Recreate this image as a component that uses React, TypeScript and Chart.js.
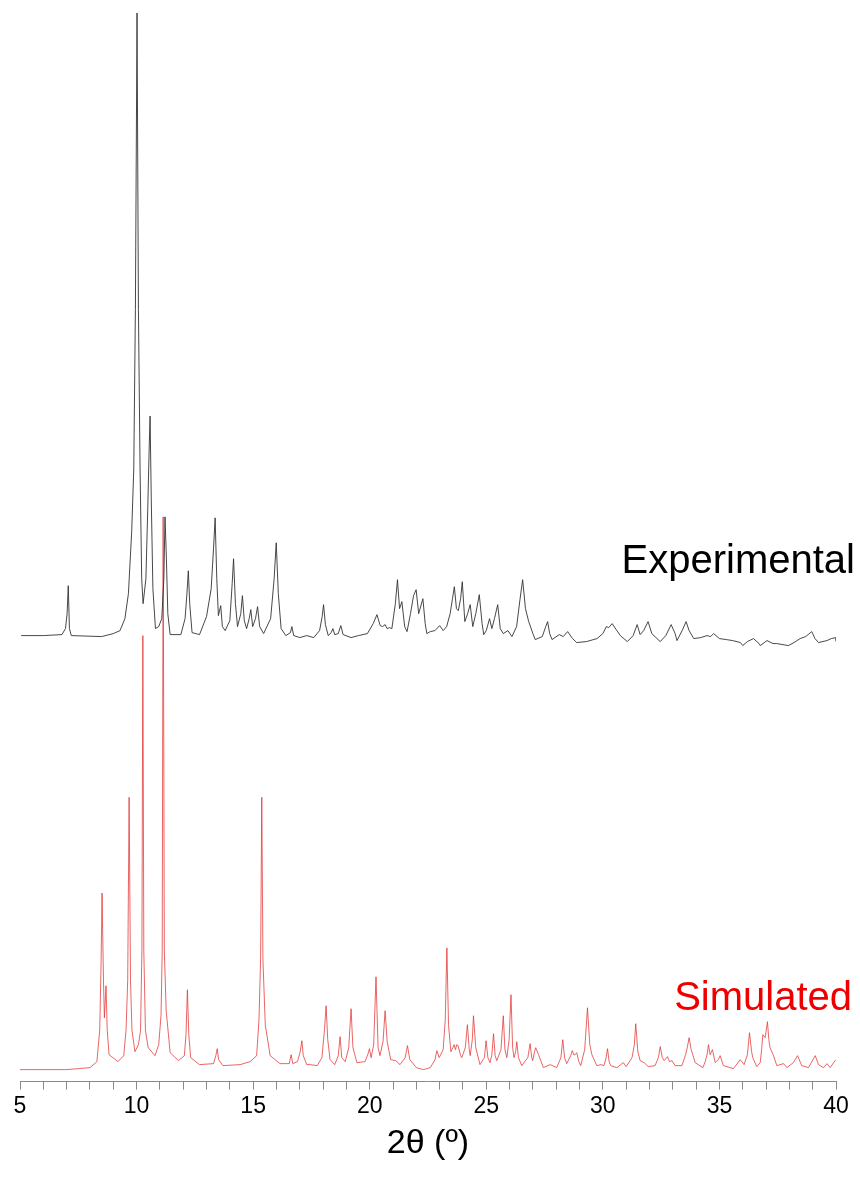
import React, { useEffect, useRef } from "react";
import { Chart, registerables } from "chart.js";

Chart.register(...registerables);

// ---- Simulated pattern (2θ in degrees, relative intensity) ----
const simTheta = [
  5.0, 6.97, 7.5, 8.0, 8.3, 8.42, 8.48, 8.52, 8.58, 8.62, 8.69, 8.74, 8.82, 9.2, 9.45, 9.55, 9.62, 9.68, 9.74, 9.8,
  9.93, 10.08, 10.17, 10.23, 10.27, 10.31, 10.38, 10.5, 10.79, 10.95, 11.05, 11.1, 11.14, 11.19, 11.27, 11.44, 11.8,
  12.05, 12.12, 12.18, 12.24, 12.32, 12.7, 13.3, 13.4, 13.46, 13.52, 13.7, 14.44, 14.87, 15.15, 15.25, 15.32, 15.37,
  15.42, 15.52, 15.73, 16.15, 16.55, 16.63, 16.7, 16.9, 17.02, 17.09, 17.15, 17.3, 17.44, 17.75, 17.95, 18.06, 18.13,
  18.2, 18.3, 18.5, 18.65, 18.73, 18.8, 18.95, 19.1, 19.2, 19.28, 19.45, 19.8, 19.93, 19.99, 20.06, 20.17, 20.27,
  20.36, 20.44, 20.57, 20.62, 20.66, 20.75, 20.9, 21.12, 21.3, 21.52, 21.62, 21.72, 22.0, 22.3, 22.6, 22.8, 22.88,
  22.98, 23.15, 23.24, 23.31, 23.38, 23.48, 23.57, 23.62, 23.68, 23.73, 23.79, 23.9, 23.95, 24.1, 24.19, 24.27, 24.31,
  24.4, 24.45, 24.55, 24.73, 24.92, 24.99, 25.07, 25.16, 25.24, 25.31, 25.38, 25.45, 25.63, 25.73, 25.8, 25.88, 25.98,
  26.06, 26.13, 26.19, 26.26, 26.31, 26.38, 26.52, 26.78, 26.88, 26.95, 26.99, 27.07, 27.12, 27.24, 27.45, 27.74,
  28.02, 28.2, 28.28, 28.36, 28.45, 28.62, 28.69, 28.75, 28.81, 28.88, 28.97, 29.05, 29.22, 29.34, 29.44, 29.53,
  29.74, 29.92, 30.05, 30.14, 30.2, 30.27, 30.34, 30.6, 30.88, 31.0, 31.25, 31.35, 31.41, 31.5, 31.6, 31.77, 31.95,
  32.24, 32.38, 32.46, 32.55, 32.63, 32.77, 32.86, 32.96, 33.1, 33.39, 33.55, 33.62, 33.7, 33.79, 33.96, 34.29, 34.39,
  34.47, 34.53, 34.6, 34.63, 34.7, 34.82, 34.95, 35.03, 35.17, 35.6, 35.89, 36.06, 36.2, 36.29, 36.38, 36.43, 36.6,
  36.75, 36.81, 36.86, 36.96, 37.06, 37.12, 37.17, 37.32, 37.46, 37.75, 37.89, 38.17, 38.35, 38.53, 38.82, 39.11,
  39.25, 39.46, 39.61, 39.75, 39.96, 40.0,
];
const simIntensity = [
  0, 0, 1, 2, 8, 40, 110, 177, 90, 52, 84, 40, 15, 8, 14, 40, 90, 273, 90, 40,
  18, 25, 39, 120, 435, 120, 39, 22, 14, 25, 55, 120, 554, 120, 59, 17, 9,
  14, 35, 80, 35, 12, 5, 6, 14, 21, 10, 4, 5, 8, 14, 50, 110, 273,
  110, 45, 14, 6, 6, 15, 6, 8, 18, 29, 14, 5, 5, 4, 12, 40, 64,
  30, 10, 5, 14, 33, 12, 8, 22, 61, 22, 7, 8, 16, 21, 12, 25, 93,
  22, 14, 28, 45, 59, 28, 10, 9, 5, 12, 24, 10, 2, 0, 2, 10, 19,
  12, 20, 50, 122, 45, 18, 22, 25, 20, 25, 24, 14, 12, 22, 45, 20, 14,
  30, 54, 22, 5, 12, 29, 12, 7, 15, 36, 14, 9, 20, 54, 20, 12, 30,
  75, 22, 12, 18, 28, 12, 4, 12, 26, 12, 9, 18, 22, 15, 2, 5,
  2, 12, 30, 12, 6, 14, 19, 15, 15, 17, 8, 4, 20, 62, 25, 15,
  4, 5, 4, 12, 21, 8, 4, 2, 7, 3, 12, 25, 46, 18, 9, 7, 3,
  4, 12, 23, 12, 9, 13, 8, 9, 4, 4, 15, 22, 32, 20, 7, 2, 8,
  15, 25, 15, 15, 20, 7, 10, 14, 4, 1, 10, 5, 15, 37, 18, 12, 3,
  7, 20, 35, 32, 48, 30, 22, 14, 4, 6, 2, 7, 14, 4, 2, 14,
  5, 2, 6, 2, 9, 10,
];

// ---- Experimental pattern (2θ in degrees, relative intensity) ----
const expTheta = [
  5.05, 6.0, 6.8, 6.95, 7.02, 7.07, 7.12, 7.2, 8.5, 9.0, 9.29, 9.5, 9.65, 9.79, 9.88, 9.95, 10.02, 10.08, 10.15, 10.22,
  10.28, 10.4, 10.48, 10.54, 10.58, 10.63, 10.7, 10.81, 10.95, 11.08, 11.17, 11.22, 11.28, 11.34, 11.44, 11.9, 12.08,
  12.16, 12.22, 12.28, 12.38, 12.7, 13.0, 13.2, 13.3, 13.37, 13.44, 13.51, 13.61, 13.68, 13.8, 14.0, 14.1, 14.16,
  14.24, 14.33, 14.47, 14.54, 14.62, 14.72, 14.83, 14.9, 14.98, 15.1, 15.19, 15.28, 15.45, 15.75, 15.9, 15.99, 16.08,
  16.2, 16.4, 16.6, 16.66, 16.74, 17.0, 17.3, 17.6, 17.85, 17.96, 18.02, 18.1, 18.22, 18.35, 18.42, 18.5, 18.65,
  18.76, 18.86, 19.2, 19.52, 19.9, 20.15, 20.31, 20.45, 20.55, 20.66, 20.75, 20.85, 20.95, 21.1, 21.19, 21.28, 21.38,
  21.5, 21.6, 21.75, 21.88, 21.99, 22.1, 22.28, 22.38, 22.45, 22.6, 22.8, 23.0, 23.15, 23.3, 23.45, 23.55, 23.63,
  23.72, 23.8, 23.9, 23.97, 24.08, 24.2, 24.31, 24.42, 24.55, 24.7, 24.82, 24.89, 25.0, 25.14, 25.24, 25.35, 25.49,
  25.6, 25.73, 25.93, 26.1, 26.3, 26.45, 26.56, 26.68, 26.82, 27.0, 27.1, 27.4, 27.55, 27.63, 27.72, 27.82, 28.13,
  28.3, 28.49, 28.7, 28.88, 29.3, 29.75, 30.0, 30.15, 30.25, 30.4, 30.6, 30.75, 31.05, 31.3, 31.47, 31.6, 31.75,
  31.94, 32.1, 32.46, 32.7, 32.93, 33.1, 33.18, 33.4, 33.57, 33.7, 33.9, 34.2, 34.47, 34.62, 34.75, 35.0, 35.3,
  35.57, 35.9, 36.0, 36.2, 36.46, 36.7, 36.75, 37.04, 37.3, 37.46, 37.95, 38.2, 38.46, 38.7, 38.96, 39.1, 39.25,
  39.61, 39.8, 39.98, 40.0,
];
const expIntensity = [
  3, 3, 4, 10, 25, 53, 10, 3, 2, 5, 8, 20, 45, 107, 170, 330, 627, 330, 170, 60,
  35, 60, 130, 190, 223, 140, 50, 10, 12, 20, 60, 122, 80, 25, 4, 4, 20,
  45, 68, 35, 6, 4, 22, 50, 90, 121, 60, 23, 33, 12, 8, 18, 55, 80,
  35, 12, 25, 43, 18, 10, 20, 29, 12, 20, 32, 12, 5, 20, 60, 96, 45,
  10, 3, 6, 12, 3, 1, 3, 1, 8, 22, 34, 14, 3, 6, 10, 4, 5,
  13, 4, 1, 3, 5, 15, 24, 13, 12, 14, 10, 11, 10, 35, 59, 30, 37,
  12, 7, 25, 43, 49, 25, 40, 15, 5, 7, 8, 13, 8, 12, 25, 40, 52,
  30, 28, 40, 57, 17, 25, 34, 12, 25, 44, 15, 4, 8, 20, 10, 20, 34,
  10, 5, 8, 2, 12, 40, 59, 30, 17, 5, -1, 2, 12, 17, 5, -1, 4,
  2, 7, 0, -4, -3, 0, 5, 12, 11, 15, 8, 3, -3, 3, 14, 4, 8,
  17, 5, -3, 3, 14, 5, -2, 8, 17, 8, 0, 1, 3, 2, 5, 0, -1,
  -2, -4, -7, -3, 0, -5, -7, -2, -5, -5, -7, -4, 0, 2, 7, 0, -4,
  -2, 0, 1, -3,
];

// vertical offsets of each trace above the 2θ axis
const simOffset = 12;
const expOffset = 444;

// x axis ticks
const xMinorTicks = [
  5, 6, 7, 8, 9, 10, 11, 12, 13, 14, 15, 16, 17, 18, 19, 20, 21, 22, 23, 24, 25, 26, 27, 28, 29, 30, 31, 32, 33, 34,
  35, 36, 37, 38, 39, 40,
];
const xTickLabels = [5, 10, 15, 20, 25, 30, 35, 40];

const seriesNames = ["Experimental", "Simulated"];
const axisTitle = "2θ (º)";

const FONT = "'Liberation Sans', Arial, Helvetica, sans-serif";

export default function App() {
  const canvasRef = useRef<HTMLCanvasElement | null>(null);

  useEffect(() => {
    const canvas = canvasRef.current;
    if (!canvas) return;

    const labelPlugin = {
      id: "traceLabels",
      afterDatasetsDraw(chart: any) {
        const { ctx, chartArea, scales } = chart;
        ctx.save();
        ctx.font = `40px ${FONT}`;
        ctx.textAlign = "right";
        ctx.textBaseline = "alphabetic";
        ctx.fillStyle = "#000000";
        ctx.fillText(seriesNames[0], chartArea.right + 19, scales.y.getPixelForValue(expOffset + 66));
        ctx.fillStyle = "#ee0000";
        ctx.fillText(seriesNames[1], chartArea.right + 16, scales.y.getPixelForValue(simOffset + 60));
        ctx.restore();
      },
    };

    const chart = new Chart(canvas, {
      type: "line",
      data: {
        datasets: [
          {
            label: seriesNames[0],
            data: expTheta.map((x, i) => ({ x, y: expIntensity[i] + expOffset })),
            borderColor: "#333333",
            borderWidth: 0.9,
            pointRadius: 0,
            tension: 0,
            fill: false,
          },
          {
            label: seriesNames[1],
            data: simTheta.map((x, i) => ({ x, y: simIntensity[i] + simOffset })),
            borderColor: "rgba(228,52,52,0.85)",
            borderWidth: 0.9,
            pointRadius: 0,
            tension: 0,
            fill: false,
          },
        ],
      },
      options: {
        responsive: false,
        animation: false,
        devicePixelRatio: 1,
        layout: { padding: { top: 4, left: 20, right: 24, bottom: 18 } },
        plugins: {
          legend: { display: false },
          tooltip: { enabled: false },
        },
        scales: {
          x: {
            type: "linear",
            min: 5,
            max: 40,
            position: "bottom",
            afterBuildTicks: (scale: any) => {
              scale.ticks = xMinorTicks.map((v) => ({ value: v }));
            },
            ticks: {
              autoSkip: false,
              maxRotation: 0,
              padding: 3,
              color: "#000000",
              font: { family: FONT, size: 23 },
              callback: (v: any) => (xTickLabels.includes(Number(v)) ? String(v) : ""),
            },
            grid: {
              display: true,
              drawOnChartArea: false,
              drawTicks: true,
              tickLength: 8,
              color: "#8a8a8a",
              lineWidth: 1,
            },
            border: { display: true, color: "#8a8a8a", width: 1 },
            title: {
              display: true,
              text: axisTitle,
              color: "#000000",
              font: { family: FONT, size: 34 },
              padding: { top: 0, bottom: 0 },
            },
          },
          y: {
            type: "linear",
            display: false,
            min: 0,
            max: 1080,
          },
        },
      },
      plugins: [labelPlugin],
    });

    return () => chart.destroy();
  }, []);

  return (
    <div style={{ position: "absolute", left: 0, top: 0, width: 860, height: 1182, background: "#ffffff" }}>
      <canvas ref={canvasRef} width={860} height={1182} />
    </div>
  );
}
